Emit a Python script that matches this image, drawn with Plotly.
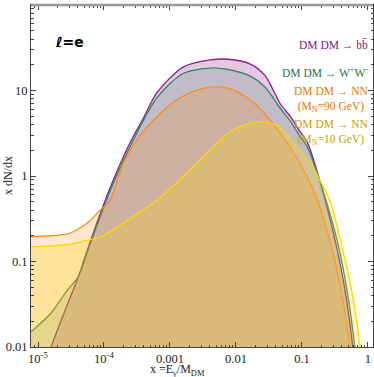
import plotly.graph_objects as go

# spectra x dN/dx (x = E_gamma / M_DM)
bb_x = [8.1e-6, 1.58e-5, 2.82e-5, 4.07e-5, 6.17e-5, 1.23e-4, 2.45e-4, 3.98e-4, 6.31e-4,
        1.58e-3, 4.07e-3, 7.59e-3, 1.62e-2, 2.75e-2, 4.68e-2, 6.61e-2, 9.33e-2, 0.120,
        0.186, 0.316, 0.447, 0.589, 0.66]
bb_y = [0.0018, 0.01, 0.032, 0.066, 0.17, 0.72, 2.4, 4.8, 9.4,
        18.8, 22.8, 23.2, 20.5, 15.0, 7.0, 5.0, 3.3, 2.5,
        0.89, 0.18, 0.047, 0.01, 0.004]

ww_x = [7.8e-6, 1.58e-5, 2.82e-5, 4.07e-5, 6.17e-5, 1.23e-4, 2.45e-4, 6.31e-4,
        1.58e-3, 4.07e-3, 7.59e-3, 1.62e-2, 2.75e-2, 4.68e-2, 6.61e-2, 9.33e-2, 0.120,
        0.186, 0.339, 0.479, 0.631, 0.70]
ww_y = [0.015, 0.025, 0.047, 0.066, 0.16, 0.66, 2.15, 8.2,
        15.8, 18.3, 17.6, 14.8, 11.0, 6.2, 4.4, 2.9, 2.2,
        0.88, 0.18, 0.047, 0.01, 0.004]

nn90_x = [7.8e-6, 1.58e-5, 2.82e-5, 4.07e-5, 6.17e-5, 7.94e-5, 1.23e-4, 1.95e-4, 3.55e-4,
          6.31e-4, 1.12e-3, 2.0e-3, 4.47e-3, 8.13e-3, 1.82e-2, 3.31e-2, 7.08e-2,
          0.148, 0.263, 0.417, 0.537, 0.60]
nn90_y = [0.195, 0.20, 0.21, 0.24, 0.30, 0.37, 0.52, 1.4, 3.0,
          4.9, 7.3, 9.4, 11.0, 10.5, 7.3, 4.5, 2.0,
          0.69, 0.18, 0.035, 0.01, 0.005]

nn10_x = [7.8e-6, 1.58e-5, 2.82e-5, 6.17e-5, 9.55e-5, 1.95e-4, 6.31e-4, 2.0e-3,
          5.13e-3, 8.13e-3, 1.41e-2, 2.45e-2, 3.98e-2, 4.68e-2, 7.24e-2, 0.141, 0.186,
          0.263, 0.380, 0.575, 0.759, 0.83]
nn10_y = [0.148, 0.152, 0.158, 0.18, 0.20, 0.28, 0.52, 1.17,
          2.4, 3.3, 4.0, 4.3, 4.0, 3.7, 2.5, 1.35, 0.9,
          0.52, 0.18, 0.043, 0.01, 0.005]

x_tickvals = [1e-5, 1e-4, 1e-3, 1e-2, 1e-1, 1]
x_ticktext = ["10<sup>-5</sup>", "10<sup>-4</sup>", "0.001", "0.01", "0.1", "1"]
y_tickvals = [0.01, 0.1, 1, 10, 100]
y_ticktext = ["0.01", "0.1", "1", "10", "100"]

series = [
    ("bb", bb_x, bb_y, "#8E1A8E", "rgba(128,0,128,0.22)"),
    ("WW", ww_x, ww_y, "#2F8A60", "rgba(46,139,87,0.18)"),
    ("NN90", nn90_x, nn90_y, "#FF8C1A", "rgba(255,140,0,0.20)"),
    ("NN10", nn10_x, nn10_y, "#FFD500", "rgba(255,215,0,0.24)"),
]

fig = go.Figure()
for name, xs, ys, line_col, fill_col in series:
    fig.add_trace(go.Scatter(x=xs, y=ys, mode="lines", name=name, fill="tozeroy",
                             fillcolor=fill_col, line=dict(color=line_col, width=1.3, shape="spline",
                                                           smoothing=0.8)))

serif = "Liberation Serif"
minor_vals = [k * 10.0 ** n for n in range(-6, 3) for k in range(2, 10)]

axis_common = dict(type="log", showgrid=False, zeroline=False, showline=True, linecolor="#444",
                   linewidth=1, mirror="ticks", ticks="inside", ticklen=5, tickcolor="#444",
                   tickmode="array", tickfont=dict(family=serif, size=12.5, color="#222"),
                   minor=dict(ticks="inside", ticklen=2.5, tickcolor="#444", tickvals=minor_vals,
                              showgrid=False))

fig.update_layout(
    width=374, height=377, showlegend=False,
    margin=dict(l=31, r=1, t=5, b=30),
    paper_bgcolor="white", plot_bgcolor="white",
    xaxis=dict(axis_common, range=[-5.106, 0.076], tickvals=x_tickvals, ticktext=x_ticktext),
    yaxis=dict(axis_common, range=[-2, 2], tickvals=y_tickvals, ticktext=y_ticktext),
)

fig.add_shape(type="line", xref="paper", yref="paper", x0=0, x1=1, y0=1, y1=1,
              line=dict(color="#999", width=2.5))

annotations = [
    ("DM DM → bb\u0304", 0.885, "#7A1A7A"),
    ("DM DM → W<sup>+</sup>W<sup>-</sup>", 0.805, "#2A6E4E"),
    ("DM DM → NN<br>(M<sub>N</sub>=90 GeV)", 0.724, "#E07800"),
    ("DM DM → NN<br>(M<sub>N</sub>=10 GeV)", 0.626, "#C8A000"),
]
for text, ypos, col in annotations:
    fig.add_annotation(text=text, xref="paper", yref="paper", x=0.992, y=ypos, xanchor="right",
                       yanchor="middle", align="center", showarrow=False,
                       font=dict(family=serif, size=11.5, color=col))

fig.add_annotation(text="<b>ℓ=e</b>", xref="paper", yref="paper", x=0.114, y=0.892,
                   xanchor="center", yanchor="middle", showarrow=False,
                   font=dict(family="DejaVu Sans", size=14, color="black"))
fig.add_annotation(text="x dN/dx", xref="paper", yref="paper", x=-0.067, y=0.5, textangle=-90,
                   xanchor="center", yanchor="middle", showarrow=False,
                   font=dict(family=serif, size=12, color="#222"))
fig.add_annotation(text="x =E<sub>γ</sub>/M<sub>DM</sub>", xref="paper", yref="paper", x=0.427,
                   y=-0.068, xanchor="center", yanchor="middle", showarrow=False,
                   font=dict(family=serif, size=12, color="#222"))

fig.write_html("out.html", config={"displayModeBar": False},
               post_script="document.body.style.margin='0';")
